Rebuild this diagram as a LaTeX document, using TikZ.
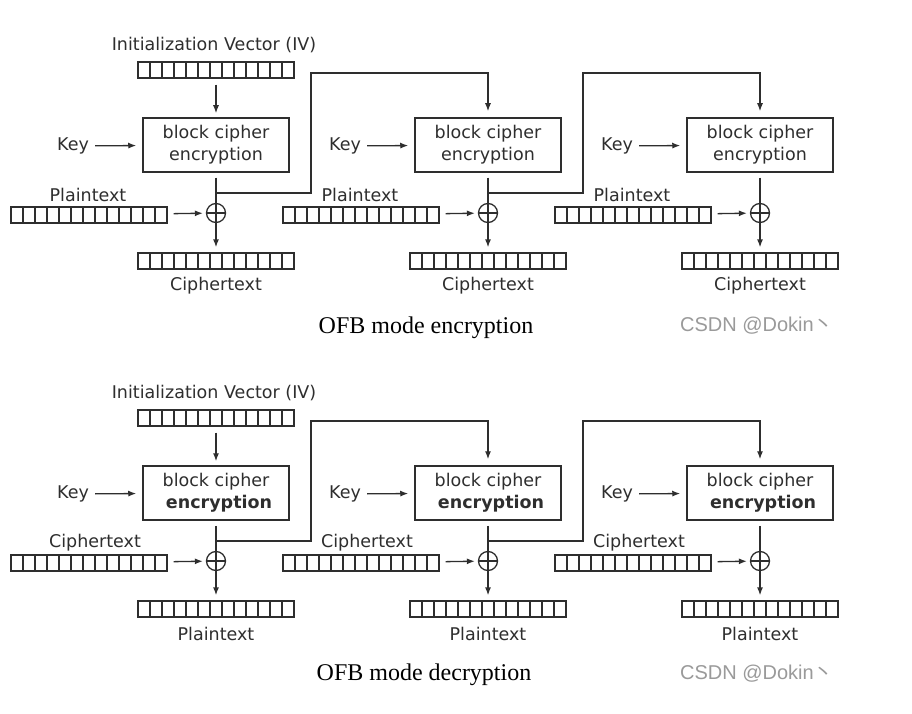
\documentclass[tikz,border=0pt]{standalone}
\usepackage{fontspec}
\setmainfont{DejaVu Sans}
\newfontfamily\serifT{Liberation Serif}
\newfontfamily\wmfont{Liberation Sans}
\newfontfamily\cjk{Noto Sans CJK SC}
\usetikzlibrary{arrows.meta,calc}
\definecolor{ink}{HTML}{2E2E2E}
\definecolor{wmgray}{HTML}{9A9A9A}
\tikzset{
 lbl/.style={font=\fontsize{17.5}{21}\selectfont, text=ink, inner sep=1pt, yshift=-2pt},
 cipherbox/.style={draw=ink, line width=1.5pt, minimum width=146pt, minimum height=54pt, inner sep=0pt, align=center, font=\fontsize{17.5}{22}\selectfont, text=ink},
 bar/.style={draw=ink, line width=1.3pt, minimum width=156pt, minimum height=16pt, inner sep=0pt,
   path picture={\foreach \k in {1,...,12}{\draw[ink, line width=1.3pt] ($(path picture bounding box.south west)!\k/13!(path picture bounding box.south east)$) -- ($(path picture bounding box.north west)!\k/13!(path picture bounding box.north east)$);}}},
 xorc/.style={circle, draw=ink, line width=1.3pt, minimum size=19pt, inner sep=0pt,
   path picture={\draw[ink, line width=1.3pt] (path picture bounding box.north) -- (path picture bounding box.south) (path picture bounding box.west) -- (path picture bounding box.east);}},
 conn/.style={draw=ink, line width=1.3pt},
 arr/.style={conn, -{Latex[length=8pt,width=6pt]}},
 titlefont/.style={font=\serifT\fontsize{24}{28}\selectfont, text=black, yshift=-3pt},
 wm/.style={font=\wmfont\fontsize{20}{24}\selectfont, text=wmgray, yshift=-2pt},
}
\newcommand\ofbrow[6]{%
 \begin{scope}[yshift=-#2pt]
  \node[lbl] (#1ivl) at (214,43) {Initialization Vector (IV)};
  \node[bar] (#1ivbar) at (216,70) {};
  \foreach \c/\cx in {1/216,2/488,3/760}{
    \node[cipherbox] (#1box\c) at (\cx,145) {block cipher\\#5 encryption};
    \node[lbl] (#1key\c) at (\cx-143,144) {Key};
    \draw[arr, shorten <=5pt, shorten >=6pt] (#1key\c) -- (#1box\c);
    \node[xorc] (#1x\c) at (\cx,213) {};
    \draw[conn, shorten <=5pt] (#1box\c) -- (#1x\c);
    \node[bar] (#1in\c) at (\cx-127,215) {};
    \node[lbl] (#1inl\c) at (\cx-#6,193) {#3};
    \draw[arr, shorten <=6pt, shorten >=3pt] (#1in\c) -- (#1x\c);
    \node[bar] (#1out\c) at (\cx,261) {};
    \node[lbl] (#1outl\c) at (\cx,284) {#4};
    \draw[arr, shorten >=5pt] (#1x\c) -- (#1out\c);
  }
  \draw[arr, shorten <=6pt, shorten >=4pt] (#1ivbar) -- (#1box1);
  \coordinate (#1f1) at (216,193);
  \coordinate (#1f2) at (488,193);
  \draw[arr, shorten >=6pt] (#1f1) -| (311,73) -| (#1box2.north);
  \draw[arr, shorten >=6pt] (#1f2) -| (583,73) -| (#1box3.north);
 \end{scope}}
\begin{document}
\begin{tikzpicture}[x=1pt,y=-1pt]
 \fill[white] (0,0) rectangle (912,714);
 \useasboundingbox (0,0) rectangle (912,714);
 \ofbrow{e}{0}{Plaintext}{Ciphertext}{}{128}
 \ofbrow{d}{348}{Ciphertext}{Plaintext}{\bfseries}{121}
 \node[titlefont] (t1) at (426,325) {OFB mode encryption};
 \node[titlefont] (t2) at (424,672) {OFB mode decryption};
 \node[wm] (w1) at (757,324) {CSDN @Dokin{\cjk 丶}};
 \node[wm] (w2) at (757,672) {CSDN @Dokin{\cjk 丶}};
\end{tikzpicture}
\end{document}
